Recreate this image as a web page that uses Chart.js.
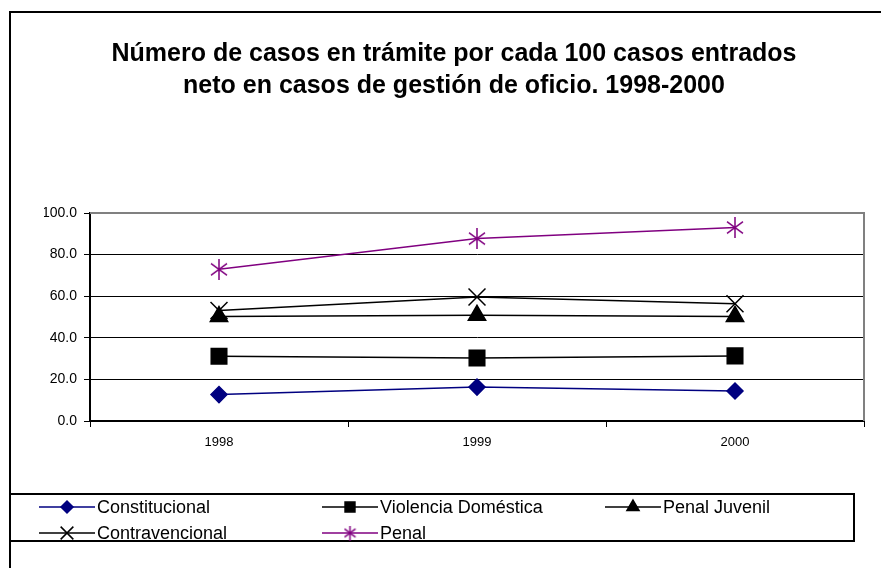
<!DOCTYPE html>
<html>
<head>
<meta charset="utf-8">
<script src="https://cdn.jsdelivr.net/npm/chart.js@4/dist/chart.umd.min.js"></script>
<style>
  body { margin: 0; background: #fff; }
  #myChart { display: block; }
</style>
</head>
<body>
<canvas id="myChart" width="881" height="568"></canvas>
<script>
var years = ['1998', '1999', '2000'];
var titleLines = ['Número de casos en trámite por cada 100 casos entrados', 'neto en casos de gestión de oficio. 1998-2000'];
var yTicks = [0, 20, 40, 60, 80, 100];

var seriesNames = ['Constitucional', 'Violencia Doméstica', 'Penal Juvenil', 'Contravencional', 'Penal'];
var constitucional = [12.7, 16.3, 14.4];
var violencia = [31.1, 30.3, 31.3];
var penalJuvenil = [50.2, 50.8, 50.3];
var contravencional = [53.1, 59.6, 56.4];
var penal = [72.9, 87.7, 93.0];

var FONT = '"Liberation Sans", Arial, sans-serif';
Chart.defaults.font.family = FONT;
Chart.defaults.color = '#000';

// excel style asterisk (x with a vertical bar)
function makeStar(w, h, color) {
  var c = document.createElement('canvas');
  c.width = w; c.height = h;
  var g = c.getContext('2d');
  g.strokeStyle = color;
  g.lineWidth = 1.5;
  g.beginPath();
  g.moveTo(1, h * 0.22); g.lineTo(w - 1, h * 0.78);
  g.moveTo(w - 1, h * 0.22); g.lineTo(1, h * 0.78);
  g.moveTo(w / 2, 0); g.lineTo(w / 2, h);
  g.stroke();
  return c;
}
var starBig = makeStar(18, 21, '#800080');
var starSmall = makeStar(13, 15, '#800080');

var datasets = [
  { label: seriesNames[0], data: constitucional, borderColor: '#000080', backgroundColor: '#000080', pointStyle: 'rectRot', pointRadius: 8, legendRadius: 6 },
  { label: seriesNames[1], data: violencia, borderColor: '#000', backgroundColor: '#000', pointStyle: 'rect', pointRadius: 11, legendRadius: 7 },
  { label: seriesNames[2], data: penalJuvenil, borderColor: '#000', backgroundColor: '#000', pointStyle: 'triangle', pointRadius: 10, legendRadius: 7 },
  { label: seriesNames[3], data: contravencional, borderColor: '#000', backgroundColor: '#000', pointStyle: 'crossRot', pointRadius: 12, legendRadius: 9 },
  { label: seriesNames[4], data: penal, borderColor: '#800080', backgroundColor: '#800080', pointStyle: starBig, legendStyle: starSmall, pointRadius: 10, legendRadius: 7 }
];
datasets.forEach(function(d) {
  d.borderWidth = 1.5;
  d.pointBorderWidth = 1.5;
  d.tension = 0;
  d.fill = false;
});

var framePlugin = {
  id: 'frame',
  beforeDatasetsDraw: function(chart) {
    var ctx = chart.ctx, a = chart.chartArea;
    ctx.save();
    ctx.strokeStyle = '#808080';
    ctx.lineWidth = 2;
    ctx.beginPath();
    ctx.moveTo(a.left, a.top);
    ctx.lineTo(a.right, a.top);
    ctx.lineTo(a.right, a.bottom);
    ctx.stroke();
    ctx.restore();
  },
  afterDraw: function(chart) {
    var ctx = chart.ctx;
    ctx.save();
    // outer frame
    ctx.strokeStyle = '#000';
    ctx.lineWidth = 2;
    ctx.beginPath();
    ctx.moveTo(10, 568);
    ctx.lineTo(10, 12);
    ctx.lineTo(881, 12);
    ctx.stroke();
    // legend box
    ctx.strokeRect(10, 494, 844, 47);

    var cols = [39, 322, 605];
    var rows = [507, 533];
    ctx.font = '18px ' + FONT;
    ctx.textBaseline = 'middle';
    ctx.textAlign = 'left';
    chart.data.datasets.forEach(function(d, i) {
      var x = cols[i % 3], y = rows[Math.floor(i / 3)];
      ctx.strokeStyle = d.borderColor;
      ctx.lineWidth = 1.5;
      ctx.beginPath();
      ctx.moveTo(x, y);
      ctx.lineTo(x + 56, y);
      ctx.stroke();
      ctx.fillStyle = d.backgroundColor;
      Chart.helpers.drawPoint(ctx, {
        pointStyle: d.legendStyle || d.pointStyle,
        radius: d.legendRadius,
        rotation: 0,
        borderWidth: 1.5
      }, x + 28, y);
      ctx.fillStyle = '#000';
      ctx.fillText(d.label, x + 58, y + 1);
    });
    ctx.restore();
  }
};

new Chart(document.getElementById('myChart'), {
  type: 'line',
  data: { labels: years, datasets: datasets },
  plugins: [framePlugin],
  options: {
    responsive: false,
    animation: false,
    layout: { padding: { top: 0, left: 44, right: 17, bottom: 117 } },
    plugins: {
      legend: { display: false },
      tooltip: { enabled: false },
      title: {
        display: true,
        text: titleLines,
        color: '#000',
        font: { size: 25, weight: 'bold', lineHeight: 1.28 },
        padding: { top: 38, bottom: 111 }
      }
    },
    scales: {
      x: {
        offset: true,
        grid: { offset: true, drawOnChartArea: false, drawTicks: true, tickLength: 6, tickColor: '#000', lineWidth: 1 },
        border: { color: '#000', width: 2 },
        ticks: { font: { size: 13 }, padding: 8, maxRotation: 0 },
        afterFit: function(s) { s.height = 30; }
      },
      y: {
        min: 0,
        max: 100,
        afterBuildTicks: function(s) { s.ticks = yTicks.map(function(v) { return { value: v }; }); },
        grid: {
          color: function(c) { return c.tick && c.tick.value === 100 ? 'rgba(0,0,0,0)' : '#000'; },
          lineWidth: 1,
          tickLength: 6,
          tickColor: '#000'
        },
        border: { color: '#000', width: 2 },
        ticks: {
          font: { size: 14 },
          padding: 7,
          callback: function(v) { return Number(v).toFixed(1); }
        },
        afterFit: function(s) { s.width = 46; }
      }
    }
  }
});
</script>
</body>
</html>
